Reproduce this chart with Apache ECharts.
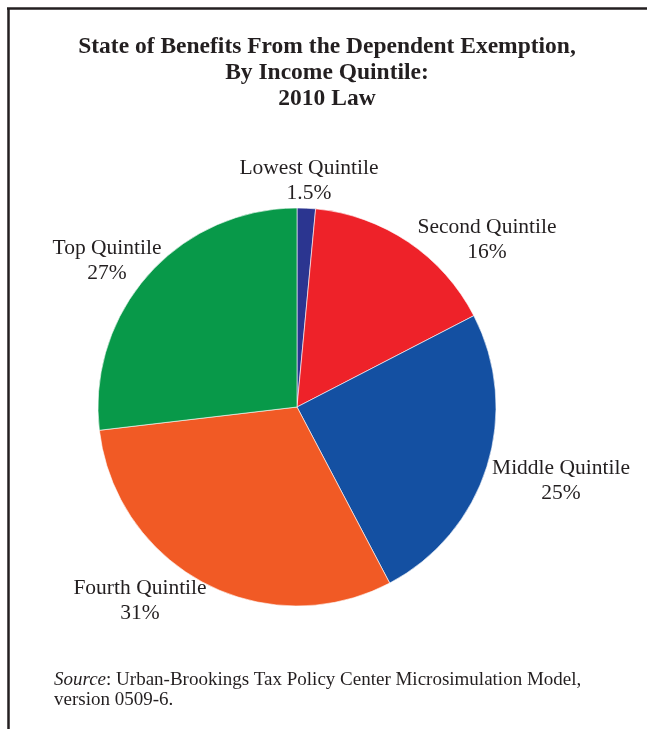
<!DOCTYPE html>
<html>
<head>
<meta charset="utf-8">
<script src="https://cdn.jsdelivr.net/npm/echarts@6/dist/echarts.min.js"></script>
<style>
html,body{margin:0;padding:0;background:#fff;}
#chart{width:647px;height:729px;}
</style>
</head>
<body>
<div id="chart"></div>
<script>
const categories = ['Lowest Quintile', 'Second Quintile', 'Middle Quintile', 'Fourth Quintile', 'Top Quintile'];
const shares = [1.5, 16, 25, 31, 27];
const colors = ['#2B3590', '#EE2229', '#1450A2', '#F15A25', '#089949'];
const titleLines = ['State of Benefits From the Dependent Exemption,', 'By Income Quintile:', '2010 Law'];
const sourceText = ': Urban-Brookings Tax Policy Center Microsimulation Model,\nversion 0509-6.';

const labelAnchors = [[309, 181], [487, 240], [561, 481], [140, 601], [107, 261]];
const serif = '"Liberation Serif", "Times New Roman", serif';

const chart = echarts.init(document.getElementById('chart'), null, {renderer: 'canvas'});
chart.setOption({
  backgroundColor: '#fff',
  animation: false,
  graphic: [
    {type: 'line', shape: {x1: 7, y1: 8.5, x2: 647, y2: 8.5}, style: {stroke: '#231f20', lineWidth: 2.5}},
    {type: 'line', shape: {x1: 8.5, y1: 8, x2: 8.5, y2: 729}, style: {stroke: '#231f20', lineWidth: 2.5}},
    {type: 'text', x: 327, y: 34, style: {text: titleLines.join('\n'), font: 'bold 23.5px ' + serif, fill: '#231f20', align: 'center', lineHeight: 26}},
    {type: 'text', x: 54, y: 670, style: {
      text: '{i|Source}{n|' + sourceText.split('\n')[0] + '}\n{n|' + sourceText.split('\n')[1] + '}',
      rich: {
        i: {fontFamily: serif, fontStyle: 'italic', fontSize: 19, fill: '#231f20', lineHeight: 20},
        n: {fontFamily: serif, fontSize: 19, fill: '#231f20', lineHeight: 20}
      }
    }}
  ],
  series: [{
    type: 'pie',
    center: [297, 407],
    radius: 199,
    startAngle: 90,
    clockwise: true,
    avoidLabelOverlap: false,
    itemStyle: {borderColor: '#ffffff', borderWidth: 0.6},
    label: {
      show: true,
      position: 'outside',
      formatter: p => p.name + '\n' + p.value + '%',
      fontFamily: serif,
      fontSize: 21.5,
      color: '#231f20',
      lineHeight: 25,
      align: 'center'
    },
    labelLine: {show: false},
    labelLayout: p => ({x: labelAnchors[p.dataIndex][0], y: labelAnchors[p.dataIndex][1], align: 'center', verticalAlign: 'middle'}),
    data: categories.map((c, i) => ({name: c, value: shares[i], itemStyle: {color: colors[i]}}))
  }]
});
</script>
</body>
</html>
